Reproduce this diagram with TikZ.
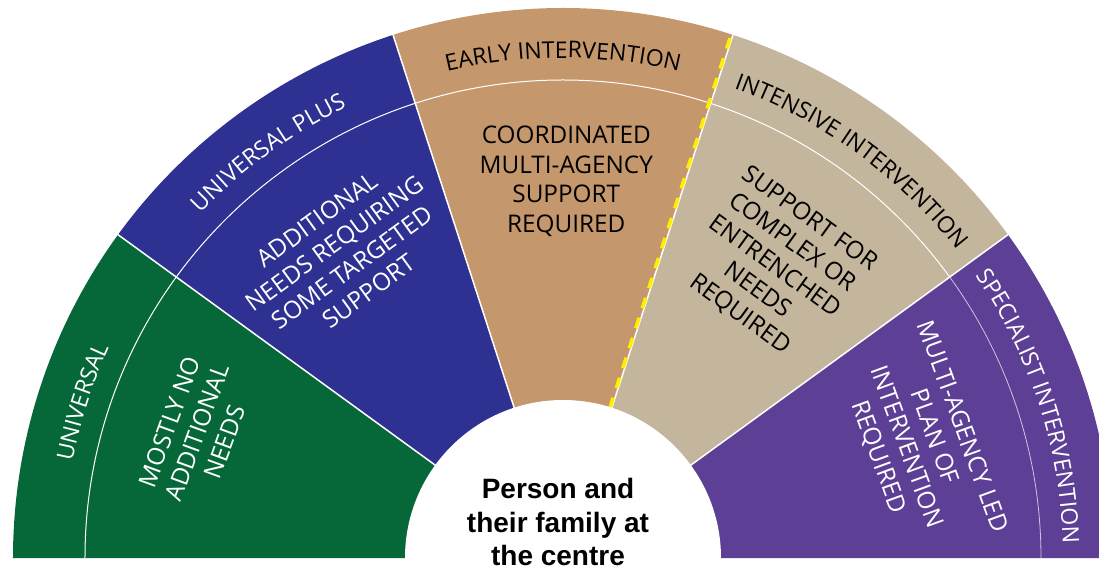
\documentclass[tikz,border=0pt]{standalone}
\usepackage{fontspec}
\setmainfont{Open Sans}
\newfontfamily\centrefont{Liberation Sans}
\usetikzlibrary{decorations.text}
\definecolor{cgreen}{RGB}{6,104,56}
\definecolor{cblue}{RGB}{46,49,146}
\definecolor{ctan}{RGB}{196,151,108}
\definecolor{cbeige}{RGB}{196,181,157}
\definecolor{cpurple}{RGB}{93,63,150}
\definecolor{cyellow}{RGB}{255,238,0}
\tikzset{
  lab/.style={align=center, font=\fontsize{24.3}{29.5}\selectfont},
  sep/.style={white, line width=1.5pt},
}
\newcommand{\sector}[3]{\fill[#1] (0,0) -- (#2:550pt) arc[start angle=#2, end angle=#3, radius=550pt] -- cycle;}
\newcommand{\outerlabel}[3]{%
  \path[decorate, decoration={text along path, text align=center,
    text={|\color{#2}\fontsize{23}{23}\selectfont|#3}}]
    ({#1+30}:500pt) arc[start angle={#1+30}, end angle={#1-30}, radius=500pt];}
\begin{document}
\begin{tikzpicture}[x=1pt,y=1pt]
\useasboundingbox (-563,-12) rectangle (536,558);
\clip (-563,-12) rectangle (536,558);
% sectors
\sector{cgreen}{180}{144}
\sector{cblue}{144}{108}
\sector{ctan}{108}{72}
\sector{cbeige}{72}{36}
\sector{cpurple}{36}{0}
% ring boundary
\draw[white, line width=1pt] (180:478pt) arc[start angle=180, end angle=36, radius=478pt];
\draw[white!70!cpurple, line width=0.8pt] (36:478pt) arc[start angle=36, end angle=0, radius=478pt];
% radial separators
\foreach \a in {36,72,108,144} \draw[sep] (0,0) -- (\a:550pt);
\begin{scope}[shift={(162:1.8pt)}]
\draw[cyellow, line width=3.6pt, dash pattern=on 11pt off 10pt] (72:546pt) -- (72:150pt);
\end{scope}
% centre
\fill[white] (0,0) circle[radius=158pt];
% outer labels
\outerlabel{162}{white}{UNIVERSAL}
\outerlabel{126}{white}{UNIVERSAL PLUS}
\outerlabel{90}{black}{EARLY INTERVENTION}
\outerlabel{54}{black}{INTENSIVE INTERVENTION}
\outerlabel{18}{white}{SPECIALIST INTERVENTION}
% inner labels
\node[lab, text=white, rotate=70] (g) at (161:387pt) {MOSTLY NO\\ADDITIONAL\\NEEDS};
\node[lab, text=white, rotate=36] (b) at (126:374pt) {ADDITIONAL\\NEEDS REQUIRING\\SOME TARGETED\\SUPPORT};
\node[lab, text=black] (t) at (89.5:377pt) {COORDINATED\\MULTI-AGENCY\\SUPPORT\\REQUIRED};
\node[lab, text=black, rotate=-36] (k) at (54:360pt) {SUPPORT FOR\\COMPLEX OR\\ENTRENCHED\\NEEDS\\REQUIRED};
\node[lab, text=white, rotate=-70] (p) at (18:375pt) {MULTI-AGENCY LED\\PLAN OF\\INTERVENTION\\REQUIRED};
% centre text
\node[font=\centrefont\bfseries\fontsize{28}{33.5}\selectfont, align=center] (c) at (-5,36) {Person and\\their family at\\the centre};
\end{tikzpicture}
\end{document}
